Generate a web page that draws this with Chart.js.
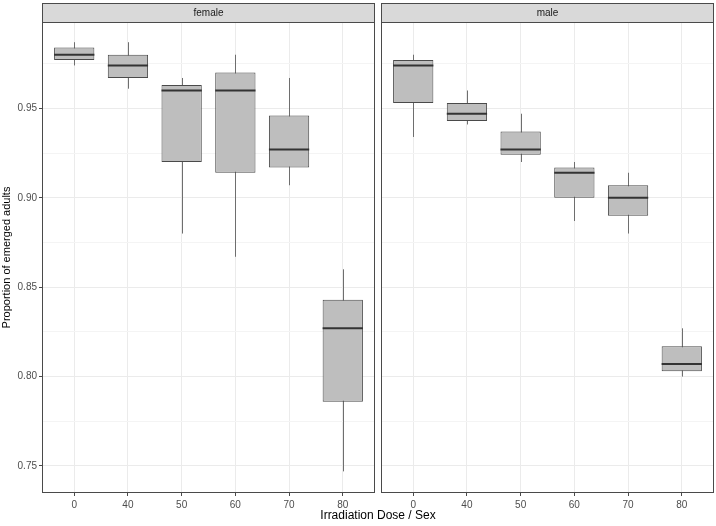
<!DOCTYPE html>
<html>
<head>
<meta charset="utf-8">
<script src="https://cdn.jsdelivr.net/npm/chart.js@4"></script>
<style>
  body { margin: 0; background: #fff; }
  #wrap { position: relative; width: 716px; height: 526px; overflow: hidden; }
  canvas { position: absolute; top: 0; }
  #female-chart { left: 0; }
  #male-chart { left: 381px; }
  #x-title {
    position: absolute; left: 0; width: 756px; top: 508px;
    text-align: center; font: 12px "Liberation Sans", Arial, sans-serif; color: #000;
  }
</style>
</head>
<body>
<div id="wrap">
  <canvas id="female-chart" width="375" height="526"></canvas>
  <canvas id="male-chart" width="333" height="526"></canvas>
  <div id="x-title">Irradiation Dose / Sex</div>
</div>
<script>
// Dose groups on the x axis
let doses = ["0", "40", "50", "60", "70", "80"];

// Female box stats
let femaleLow = [0.974, 0.961, 0.880, 0.867, 0.907, 0.747];
let femaleQ1 = [0.977, 0.967, 0.920, 0.914, 0.917, 0.786];
let femaleMedian = [0.980, 0.974, 0.960, 0.960, 0.927, 0.827];
let femaleQ3 = [0.984, 0.980, 0.963, 0.970, 0.946, 0.843];
let femaleHigh = [0.987, 0.987, 0.967, 0.980, 0.967, 0.860];

// Male box stats
let maleLow = [0.934, 0.941, 0.920, 0.887, 0.880, 0.800];
let maleQ1 = [0.953, 0.943, 0.924, 0.900, 0.890, 0.803];
let maleMedian = [0.974, 0.947, 0.927, 0.914, 0.900, 0.807];
let maleQ3 = [0.977, 0.953, 0.937, 0.917, 0.907, 0.817];
let maleHigh = [0.980, 0.960, 0.947, 0.920, 0.914, 0.827];

let yMin = 0.7349;
let yMax = 0.9983;
let font = "'Liberation Sans', Arial, sans-serif";

function isMajor(v) {
    return Math.abs(Math.round(v * 20) - v * 20) < 1e-6;
}

function boxParts(label, low, median, high) {
    return {
        id: "boxParts",
        beforeDatasetsDraw(chart) {
            let ctx = chart.ctx;
            let x = chart.scales.x, y = chart.scales.y;
            ctx.save();
            ctx.strokeStyle = "#6e6e6e";
            ctx.lineWidth = 1;
            low.forEach((lo, i) => {
                let px = Math.round(x.getPixelForValue(i)) + 0.5;
                ctx.beginPath();
                ctx.moveTo(px, y.getPixelForValue(lo));
                ctx.lineTo(px, y.getPixelForValue(high[i]));
                ctx.stroke();
            });
            ctx.restore();
        },
        afterDatasetsDraw(chart) {
            let ctx = chart.ctx;
            let y = chart.scales.y;
            let bars = chart.getDatasetMeta(0).data;
            ctx.save();
            ctx.strokeStyle = "#333333";
            ctx.lineWidth = 2;
            median.forEach((m, i) => {
                let b = bars[i];
                let py = y.getPixelForValue(m);
                ctx.beginPath();
                ctx.moveTo(b.x - b.width / 2, py);
                ctx.lineTo(b.x + b.width / 2, py);
                ctx.stroke();
            });
            // panel border
            let a = chart.chartArea;
            ctx.strokeStyle = "#4a4a4a";
            ctx.lineWidth = 1;
            ctx.strokeRect(a.left + 0.5, a.top + 0.5, a.right - a.left - 1, a.bottom - a.top - 1);
            // strip on top
            ctx.fillStyle = "#d9d9d9";
            ctx.fillRect(a.left, 3, a.right - a.left, a.top - 3);
            ctx.strokeRect(a.left + 0.5, 3.5, a.right - a.left - 1, a.top - 3);
            ctx.fillStyle = "#1a1a1a";
            ctx.font = "10px " + font;
            ctx.textAlign = "center";
            ctx.textBaseline = "middle";
            ctx.fillText(label, (a.left + a.right) / 2, (a.top + 3) / 2 + 1);
            ctx.restore();
        }
    };
}

function makePanel(id, label, low, q1, median, q3, high, showY) {
    let ctx = document.getElementById(id).getContext("2d");
    return new Chart(ctx, {
        type: "bar",
        data: {
            datasets: [{
                data: q1.map((v, i) => ({ x: i, y: [v, q3[i]] })),
                backgroundColor: "#bebebe",
                borderColor: "#4a4a4a",
                borderWidth: 1,
                borderSkipped: false,
                barPercentage: 0.75,
                categoryPercentage: 1
            }]
        },
        options: {
            responsive: false,
            animation: false,
            devicePixelRatio: 1,
            layout: { padding: { top: 22, left: 0, right: 0, bottom: 0 } },
            plugins: { legend: { display: false }, tooltip: { enabled: false } },
            scales: {
                x: {
                    type: "linear",
                    min: -0.6,
                    max: 5.6,
                    offset: false,
                    afterFit: s => { s.height = 33; },
                    grid: {
                        offset: false,
                        color: "#ebebeb",
                        tickLength: 3,
                        tickColor: "#4a4a4a"
                    },
                    border: { display: false },
                    ticks: {
                        stepSize: 1,
                        includeBounds: false,
                        padding: 3,
                        color: "#4d4d4d",
                        font: { family: font, size: 10 },
                        maxRotation: 0,
                        callback: v => doses[v]
                    }
                },
                y: {
                    min: yMin,
                    max: yMax,
                    afterFit: s => { s.width = showY ? 42 : 0; },
                    title: {
                        display: showY,
                        text: "Proportion of emerged adults",
                        color: "#000",
                        font: { family: font, size: 11 },
                        padding: { top: 0, bottom: 0 }
                    },
                    grid: {
                        drawTicks: showY,
                        tickLength: 3,
                        color: c => isMajor(c.tick.value) ? "#ebebeb" : "#f4f4f4",
                        tickColor: c => isMajor(c.tick.value) ? "#4a4a4a" : "rgba(0,0,0,0)"
                    },
                    border: { display: false },
                    ticks: {
                        display: showY,
                        stepSize: 0.025,
                        includeBounds: false,
                        padding: 2,
                        color: "#4d4d4d",
                        font: { family: font, size: 10 },
                        callback: v => isMajor(v) ? v.toFixed(2) : ""
                    }
                }
            }
        },
        plugins: [boxParts(label, low, median, high)]
    });
}

makePanel("female-chart", "female", femaleLow, femaleQ1, femaleMedian, femaleQ3, femaleHigh, true);
makePanel("male-chart", "male", maleLow, maleQ1, maleMedian, maleQ3, maleHigh, false);
</script>
</body>
</html>
